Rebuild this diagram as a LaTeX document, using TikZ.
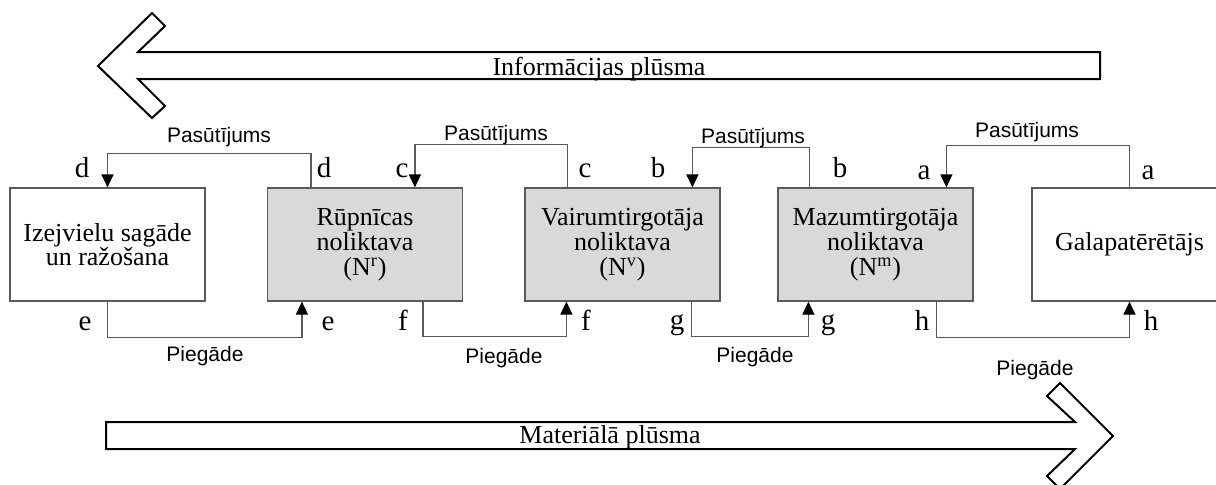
\documentclass[tikz,border=0pt]{standalone}
\usepackage{fontspec}
\setmainfont{Liberation Serif}
\setsansfont{Liberation Sans}
\usetikzlibrary{arrows.meta,calc}
\usepackage{xcolor}

\definecolor{boxgray}{RGB}{217,217,217}
\definecolor{linegray}{RGB}{90,90,90}

\tikzset{
    stage/.style={draw=linegray, line width=0.6pt, minimum width=97.5pt, minimum height=56.5pt,
        inner sep=0pt, align=center, font=\fontsize{13}{12.4}\selectfont},
    store/.style={stage, fill=boxgray},
    link/.style={draw=linegray, line width=0.6pt, -{Triangle[length=6.5pt,width=6pt,color=black]}},
    tag/.style={anchor=base, font=\fontsize{14.5}{16}\selectfont},
    flowtext/.style={anchor=base, font=\fontsize{13}{15}\selectfont},
    msg/.style={anchor=base, font=\sffamily\fontsize{10.5}{12}\selectfont},
    flow/.style={draw=black, line width=1pt, fill=white, line join=miter},
}

\begin{document}
\begin{tikzpicture}[x=0.5pt, y=-0.5pt]
    \useasboundingbox (0,0) rectangle (1216,484);

    % information and material flows
    \draw[flow] (98,66) -- (152,13) -- (165,26) -- (138,52) -- (1100,52) -- (1100,79)
        -- (138,79) -- (165,106) -- (152,118) -- cycle;
    \node[flowtext] (info) at (599,75) {Informācijas plūsma};
    \draw[flow] (1113,436) -- (1060,383) -- (1047,396) -- (1075,422) -- (106,422) -- (106,449)
        -- (1075,449) -- (1047,476) -- (1060,489) -- cycle;
    \node[flowtext] (mat) at (610,443) {Materiālā plūsma};

    % supply chain stages
    \node[stage] (izej) at (107.5,244.5) {Izejvielu sagāde\\un ražošana};
    \node[store] (rupn) at (365,244.5) {Rūpnīcas\\noliktava\\(N\textsuperscript{r})};
    \node[store] (vair) at (622.5,244.5) {Vairumtirgotāja\\noliktava\\(N\textsuperscript{v})};
    \node[store] (mazu) at (875.5,244.5) {Mazumtirgotāja\\noliktava\\(N\textsuperscript{m})};
    \node[stage] (gala) at (1129.5,244.5) {Galapatērētājs};

    % orders
    \draw[link] ($(rupn.north west)+(44,0)$) |- ($(izej.north)+(0,-34)$) -- (izej.north);
    \draw[link] ($(vair.north west)+(43,0)$) |- ($(rupn.north west)+(148,-43)$) -- ($(rupn.north west)+(148,0)$);
    \draw[link] ($(mazu.north west)+(32,0)$) |- ($(vair.north west)+(168,-40)$) -- ($(vair.north west)+(168,0)$);
    \draw[link] (gala.north) |- ($(mazu.north west)+(169,-42)$) -- ($(mazu.north west)+(169,0)$);

    \node[msg] (ord1) at (219,142) {Pasūtījums};
    \node[msg] (ord2) at (496,140) {Pasūtījums};
    \node[msg] (ord3) at (753,143) {Pasūtījums};
    \node[msg] (ord4) at (1027,137) {Pasūtījums};

    % deliveries
    \draw[link] (izej.south) |- ($(rupn.south west)+(35,36)$) -- ($(rupn.south west)+(35,0)$);
    \draw[link] ($(rupn.south west)+(156,0)$) |- ($(vair.south west)+(42,35)$) -- ($(vair.south west)+(42,0)$);
    \draw[link] ($(vair.south west)+(167,0)$) |- ($(mazu.south west)+(31,35)$) -- ($(mazu.south west)+(31,0)$);
    \draw[link] ($(mazu.south west)+(159,0)$) |- ($(gala.south)+(0,36)$) -- (gala.south);

    \node[msg] (del1) at (205,361) {Piegāde};
    \node[msg] (del2) at (504,363) {Piegāde};
    \node[msg] (del3) at (755,362) {Piegāde};
    \node[msg] (del4) at (1035,375) {Piegāde};

    % point labels
    \node[tag] (d1) at (82,177) {d};
    \node[tag] (d2) at (324,177) {d};
    \node[tag] (c1) at (402,177) {c};
    \node[tag] (c2) at (585,177) {c};
    \node[tag] (b1) at (658,177) {b};
    \node[tag] (b2) at (840,177) {b};
    \node[tag] (a1) at (924,179) {a};
    \node[tag] (a2) at (1148,179) {a};
    \node[tag] (e1) at (85,330) {e};
    \node[tag] (e2) at (328,330) {e};
    \node[tag] (f1) at (403,330) {f};
    \node[tag] (f2) at (586,330) {f};
    \node[tag] (g1) at (677,329) {g};
    \node[tag] (g2) at (828,329) {g};
    \node[tag] (h1) at (922,330) {h};
    \node[tag] (h2) at (1151,330) {h};
\end{tikzpicture}
\end{document}
